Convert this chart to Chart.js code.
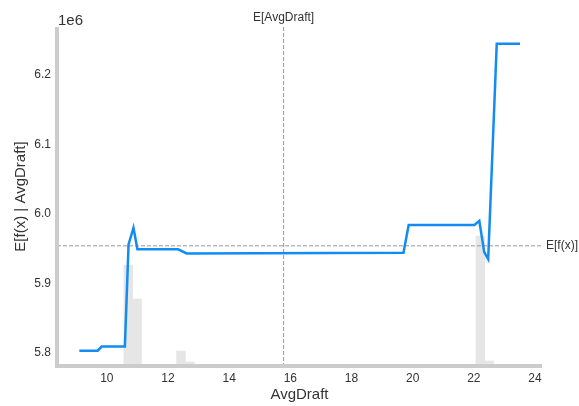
<!DOCTYPE html>
<html>
<head>
<meta charset="utf-8">
<script src="https://cdn.jsdelivr.net/npm/chart.js@4/dist/chart.umd.min.js"></script>
<style>
  html, body { margin: 0; padding: 0; background: #fff; }
</style>
</head>
<body>
<canvas id="pdpChart" width="579" height="406"></canvas>
<script>
// partial dependence of the model output on AvgDraft (values in units of 1e6)
const lineX = [9.10, 9.70, 9.83, 10.59, 10.71, 10.87, 11.00, 12.33, 12.61, 19.70, 19.87, 22.02, 22.18, 22.34, 22.47, 22.75, 23.51];
const lineY = [5.803, 5.803, 5.809, 5.809, 5.956, 5.980, 5.949, 5.949, 5.943, 5.944, 5.984, 5.984, 5.990, 5.945, 5.935, 6.245, 6.245];

// feature histogram (bin centres, share of samples)
const histX = [9.274, 10.700, 10.988, 12.425, 12.713, 16.763, 22.213, 22.500];
const histShare = [0.004, 0.298, 0.198, 0.044, 0.012, 0.005, 0.383, 0.015];

const xTicks = [10, 12, 14, 16, 18, 20, 22, 24];
const yTicks = [5.8, 5.9, 6.0, 6.1, 6.2];

const expectedX = 15.78;   // E[AvgDraft]
const expectedY = 5.954;   // E[f(x)]

const font = 'Liberation Sans, Arial, sans-serif';

const overlay = {
  id: 'overlay',
  afterDatasetDraw(chart, args) {
    if (args.index !== 1) return; // after the histogram, before the line
    const { ctx, chartArea: a, scales: { x, y } } = chart;
    const px = x.getPixelForValue(expectedX);
    const py = y.getPixelForValue(expectedY);
    ctx.save();
    ctx.strokeStyle = '#999';
    ctx.lineWidth = 1;
    ctx.setLineDash([4, 2]);
    ctx.beginPath();
    ctx.moveTo(px, a.top);
    ctx.lineTo(px, a.bottom);
    ctx.moveTo(a.left, py);
    ctx.lineTo(a.right, py);
    ctx.stroke();
    ctx.restore();
  },
  afterDatasetsDraw(chart) {
    const { ctx, chartArea: a, scales: { x, y } } = chart;
    ctx.save();
    // spines
    ctx.fillStyle = '#ccc';
    ctx.fillRect(a.left - 2, a.top, 4, a.bottom - a.top + 2);
    ctx.fillRect(a.left - 2, a.bottom - 2, a.right - a.left + 2, 4);
    // texts
    ctx.fillStyle = '#333';
    ctx.font = '15px ' + font;
    ctx.textAlign = 'left';
    ctx.textBaseline = 'alphabetic';
    ctx.fillText('1e6', a.left + 1, 25);
    ctx.font = '12px ' + font;
    ctx.textAlign = 'center';
    ctx.fillText('E[AvgDraft]', x.getPixelForValue(expectedX), 21);
    ctx.textAlign = 'left';
    ctx.textBaseline = 'middle';
    ctx.fillText('E[f(x)]', a.right + 4, y.getPixelForValue(expectedY));
    ctx.restore();
  }
};

new Chart(document.getElementById('pdpChart'), {
  type: 'line',
  data: {
    datasets: [{
      type: 'line',
      data: lineX.map((v, i) => ({ x: v, y: lineY[i] })),
      borderColor: '#128cf2',
      borderWidth: 2.5,
      pointRadius: 0,
      tension: 0,
      order: 0
    }, {
      type: 'bar',
      data: histX.map((v, i) => ({ x: v, y: histShare[i] })),
      yAxisID: 'y2',
      backgroundColor: '#e6e6e6',
      borderWidth: 0,
      barPercentage: 1,
      categoryPercentage: 1,
      order: 1
    }]
  },
  options: {
    responsive: false,
    animation: false,
    layout: { padding: { top: 27, right: 37, left: 0, bottom: 0 } },
    plugins: { legend: { display: false }, tooltip: { enabled: false } },
    scales: {
      x: {
        type: 'linear',
        min: 8.37,
        max: 24.23,
        offset: false,
        grid: { display: false, drawTicks: false, offset: false },
        border: { display: false },
        afterBuildTicks: s => { s.ticks = xTicks.map(v => ({ value: v })); },
        afterFit: s => { s.height = 40; },
        ticks: { color: '#333', padding: 5, maxRotation: 0, font: { family: font, size: 12 } },
        title: { display: true, text: 'AvgDraft', color: '#333', padding: { top: 0, bottom: 2 }, font: { family: font, size: 15 } }
      },
      y: {
        min: 5.781,
        max: 6.269,
        grid: { display: false, drawTicks: false },
        border: { display: false },
        afterBuildTicks: s => { s.ticks = yTicks.map(v => ({ value: v })); },
        afterFit: s => { s.width = 57; },
        ticks: { color: '#333', padding: 6, font: { family: font, size: 12 }, callback: v => v.toFixed(1) },
        title: { display: true, text: 'E[f(x) | AvgDraft]', color: '#333', padding: { top: 12, bottom: 0 }, font: { family: font, size: 15 } }
      },
      y2: {
        display: false,
        position: 'right',
        min: 0,
        max: 1
      }
    }
  },
  plugins: [overlay]
});
</script>
</body>
</html>
